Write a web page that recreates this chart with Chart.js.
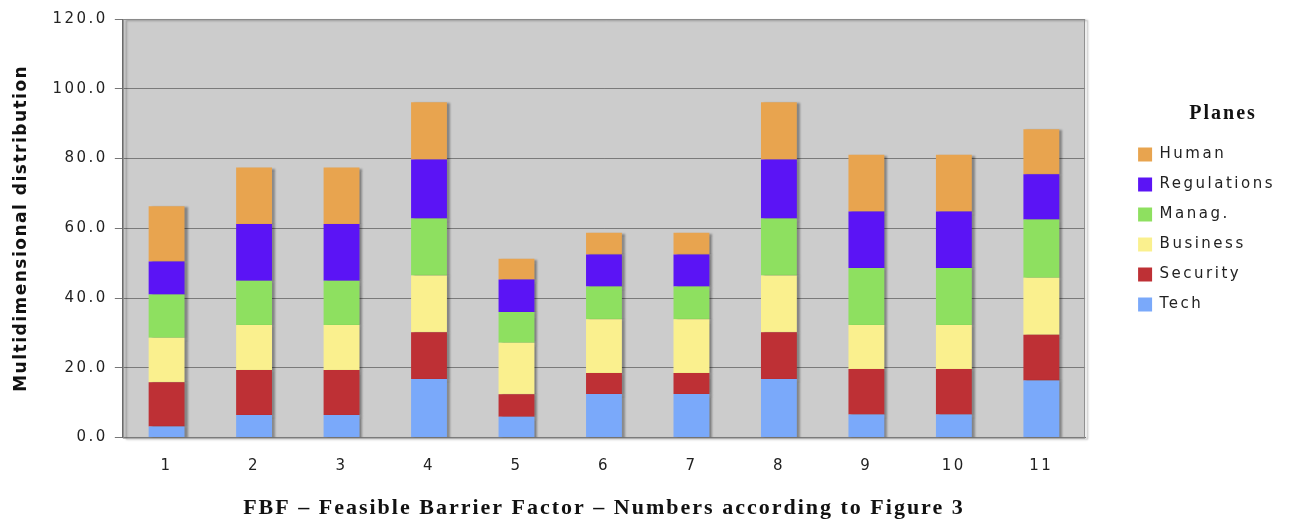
<!DOCTYPE html>
<html>
<head>
<meta charset="utf-8">
<style>
  html, body { margin: 0; padding: 0; background: #fff; }
  #wrap { width: 1289px; height: 527px; }
</style>
</head>
<body>
<div id="wrap"><canvas id="planesChart"></canvas></div>
<script src="https://cdn.jsdelivr.net/npm/chart.js"></script>
<script>
// barrier factor numbers (x axis)
const factors = ["1", "2", "3", "4", "5", "6", "7", "8", "9", "10", "11"];

// values per plane (bottom to top of each stack)
const tech        = [3.2, 6.5, 6.5, 16.8, 6.0, 12.5, 12.5, 16.8, 6.6, 6.6, 16.4];
const security    = [12.7, 12.9, 12.9, 13.4, 6.4, 6.0, 6.0, 13.4, 13.1, 13.1, 13.1];
const business    = [12.7, 12.9, 12.9, 16.3, 14.8, 15.4, 15.4, 16.3, 12.6, 12.6, 16.3];
const manag       = [12.4, 12.7, 12.7, 16.3, 8.8, 9.4, 9.4, 16.3, 16.3, 16.3, 16.7];
const regulations = [9.5, 16.2, 16.2, 16.9, 9.3, 9.2, 9.2, 16.9, 16.2, 16.2, 13.0];
const human       = [15.8, 16.2, 16.2, 16.4, 6.0, 6.2, 6.2, 16.4, 16.3, 16.3, 12.9];

const planeNames  = ["Tech", "Security", "Business", "Manag.", "Regulations", "Human"];
const planeColors = ["#7aa9fa", "#be3035", "#faf08e", "#8ee060", "#5b14f5", "#e8a44f"];
const planeValues = [tech, security, business, manag, regulations, human];

// the original text is rendered quite wide, so space the letters out a bit
const fontDesc = Object.getOwnPropertyDescriptor(CanvasRenderingContext2D.prototype, "font");
Object.defineProperty(CanvasRenderingContext2D.prototype, "font", {
  configurable: true,
  get() { return fontDesc.get.call(this); },
  set(v) {
    fontDesc.set.call(this, v);
    this.letterSpacing = /Serif/.test(v) ? "2px" : /bold/.test(v) ? "1.5px" : "2.5px";
  }
});

// grey plot background + frame
const plotBg = {
  id: "plotBg",
  beforeDraw(chart) {
    const { ctx, chartArea: a } = chart;
    ctx.save();
    ctx.fillStyle = "#cccccc";
    ctx.fillRect(a.left, a.top, a.width, a.height);
    ctx.restore();
  },
  afterDatasetsDraw(chart) {
    const { ctx, chartArea: a } = chart;
    ctx.save();
    ctx.strokeStyle = "#8a8a8a";
    ctx.lineWidth = 1;
    ctx.strokeRect(a.left + 0.5, a.top + 0.5, a.width - 1, a.height);
    ctx.restore();
  }
};

// little drop shadow to the right of the bars
const barShadow = {
  id: "barShadow",
  beforeDatasetsDraw(chart) {
    const ctx = chart.ctx;
    ctx.save();
    ctx.shadowColor = "rgba(0,0,0,0.35)";
    ctx.shadowOffsetX = 3;
    ctx.shadowOffsetY = 1;
    ctx.shadowBlur = 2;
  },
  afterDatasetsDraw(chart) {
    chart.ctx.restore();
  }
};

// leave a gap between the plot and the legend
const legendGap = 38;
const legendSpace = {
  id: "legendSpace",
  afterInit(chart) {
    const lg = chart.legend;
    const fit = lg.fit;
    lg.fit = function () {
      fit.call(this);
      this.width += legendGap;
    };
  },
  afterLayout(chart) {
    chart.legend.left += legendGap;
  }
};

const datasets = planeNames.map((name, i) => ({
  label: name,
  data: planeValues[i],
  backgroundColor: planeColors[i],
  borderWidth: 0,
  barPercentage: 0.41,
  categoryPercentage: 1.0
}));

new Chart(document.getElementById("planesChart"), {
  type: "bar",
  data: { labels: factors, datasets: datasets },
  plugins: [plotBg, barShadow, legendSpace],
  options: {
    responsive: true,
    maintainAspectRatio: false,
    animation: false,
    layout: { padding: { left: 9, top: 19, right: 4, bottom: 5 } },
    plugins: {
      tooltip: { enabled: false },
      legend: {
        position: "right",
        align: "start",
        reverse: true,
        title: {
          display: true,
          text: "Planes",
          color: "#111",
          font: { family: "'Liberation Serif', serif", size: 20, weight: "bold" },
          padding: { top: 85, bottom: 4 }
        },
        labels: {
          boxWidth: 14,
          boxHeight: 14,
          padding: 15,
          color: "#222",
          font: { family: "'DejaVu Sans', Verdana, sans-serif", size: 15 }
        }
      }
    },
    scales: {
      x: {
        stacked: true,
        grid: { display: false },
        border: { display: true, color: "#777" },
        ticks: {
          color: "#222",
          padding: 12,
          font: { family: "'DejaVu Sans', Verdana, sans-serif", size: 15 }
        },
        title: {
          display: true,
          text: "FBF – Feasible Barrier Factor – Numbers according to Figure 3",
          color: "#111",
          font: { family: "'Liberation Serif', serif", size: 22, weight: "bold" },
          padding: { top: 8, bottom: 0 }
        }
      },
      y: {
        stacked: true,
        min: 0,
        max: 120,
        grid: { color: "#7a7a7a", lineWidth: 1, drawTicks: true, tickLength: 8, tickColor: "#777" },
        border: { display: true, color: "#666" },
        ticks: {
          stepSize: 20,
          color: "#222",
          padding: 7,
          font: { family: "'DejaVu Sans', Verdana, sans-serif", size: 15 },
          callback: v => Number(v).toFixed(1)
        },
        title: {
          display: true,
          text: "Multidimensional distribution",
          color: "#111",
          font: { family: "'DejaVu Sans', Verdana, sans-serif", size: 17, weight: "bold" },
          padding: { top: 2, bottom: 14 }
        }
      }
    }
  }
});
</script>
</body>
</html>
